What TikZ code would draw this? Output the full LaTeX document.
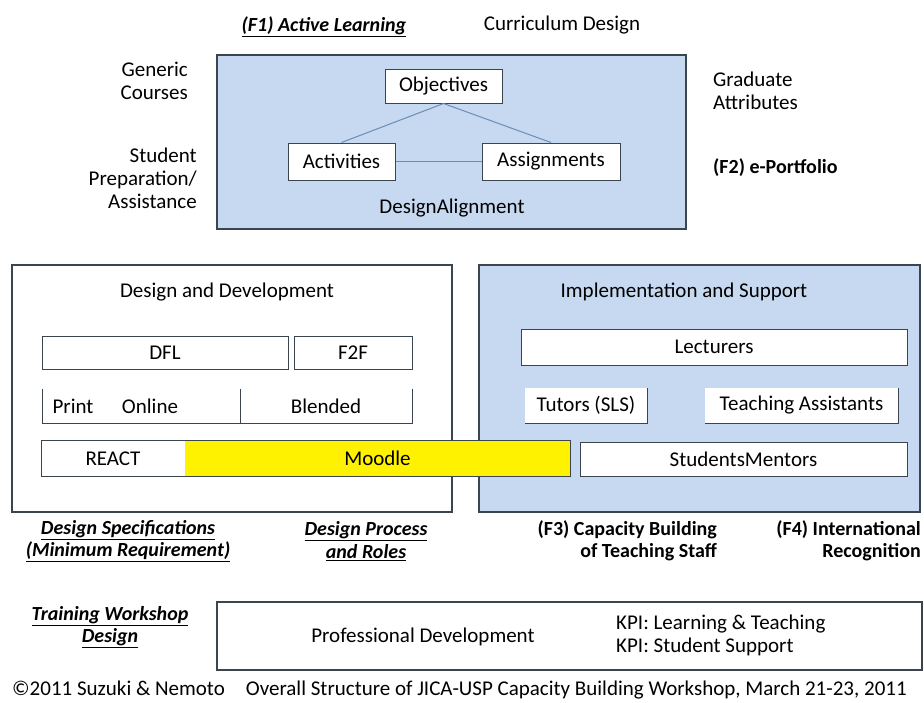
\documentclass[tikz,border=0pt]{standalone}
\usepackage{fontspec}
\setmainfont{Carlito}
\usetikzlibrary{positioning}

\definecolor{paleblue}{HTML}{C6D9F1}
\definecolor{edgegray}{HTML}{3B4550}
\definecolor{linkblue}{HTML}{6A8DB5}

\begin{document}
\begin{tikzpicture}[%
  x=1pt, y=-1pt,
  every node/.style={font=\fontsize{21}{23}\selectfont, inner sep=0pt},
  panel/.style={draw=edgegray, line width=1.2pt},
  bluepanel/.style={panel, fill=paleblue},
  item/.style={draw=edgegray, line width=1pt, fill=white},
  plainitem/.style={fill=white},
  heading/.style={font=\fontsize{20}{22.5}\selectfont\bfseries\itshape, align=center},
  factor/.style={font=\fontsize{20}{22.5}\selectfont\bfseries, align=right},
  link/.style={linkblue, line width=1pt}
]

  \useasboundingbox (0,0) rectangle (924,702);

  % curriculum design
  \node[heading] (f1) at (324,27) {\underline{(F1) Active Learning}};
  \node (curtitle) at (562,25) {Curriculum Design};

  \node[bluepanel, minimum width=469, minimum height=174] (curr) at (451.5,142) {};
  \node[item, minimum width=117, minimum height=34] (obj) at (443.5,86) {Objectives};
  \node[item, minimum width=107, minimum height=37] (act) at (341.5,161.5) {Activities};
  \node[item, minimum width=138, minimum height=37] (asg) at (551,161.5) {Assignments};
  \node (align) at (452,208) {DesignAlignment};

  \draw[link] (obj.south) -- (act.north);
  \draw[link] (obj.south) -- (asg.north);
  \draw[link] (act.east) -- (asg.west);

  \node[anchor=east, align=right] (generic) at (188,81) {Generic\\Courses};
  \node[anchor=east, align=right] (prep) at (197,178) {Student\\Preparation/\\Assistance};
  \node[anchor=west, align=left] (grad) at (713,91) {Graduate\\Attributes};
  \node[anchor=west, factor] (f2) at (713,168) {(F2) e-Portfolio};

  % design and development
  \node[panel, fill=white, minimum width=440, minimum height=247] (dev) at (232,388.5) {};
  \node (devtitle) at (227,292) {Design and Development};
  \node[item, minimum width=246, minimum height=33] (dfl) at (165,352.5) {DFL};
  \node[item, minimum width=118, minimum height=33] (f2f) at (353,352.5) {F2F};

  \coordinate (brA) at (42,389);
  \coordinate (brB) at (42,423);
  \coordinate (brC) at (412,423);
  \coordinate (brD) at (412,389);
  \coordinate (brM) at (240,389);
  \coordinate (brN) at (240,423);
  \draw[edgegray, line width=1pt] (brA) -- (brB) -- (brC) -- (brD);
  \draw[edgegray, line width=1pt] (brM) -- (brN);
  \node (print) at (73,406) {Print};
  \node (online) at (150,406) {Online};
  \node (blended) at (326,406) {Blended};

  % implementation and support
  \node[bluepanel, minimum width=441, minimum height=247] (impl) at (699.5,388.5) {};
  \node (impltitle) at (684,292) {Implementation and Support};
  \node[item, minimum width=386, minimum height=36] (lect) at (714,347) {Lecturers};
  \node[plainitem, minimum width=122, minimum height=35] (tutor) at (586,405.5) {Tutors (SLS)};
  \node[plainitem, minimum width=193, minimum height=35] (ta) at (801.5,405.5) {Teaching Assistants};
  \draw[edgegray, line width=1pt] (tutor.north east) -- (tutor.south east) -- (tutor.south west);
  \draw[edgegray, line width=1pt] (ta.north east) -- (ta.south east) -- (ta.south west);
  \node[item, minimum width=327, minimum height=34] (mentor) at (743.5,459) {StudentsMentors};

  % platform bar
  \node[fill=white, minimum width=528, minimum height=35] (bar) at (306,458.5) {};
  \node[fill=yellow, minimum width=385, minimum height=35] (moodle) at (377.5,458.5) {Moodle};
  \node (react) at (113,459) {REACT};
  \draw[edgegray, line width=1pt] (bar.north west) rectangle (bar.south east);

  % labels under the panels
  \node[heading] (spec) at (128,541) {\underline{Design Specifications}\\\underline{(Minimum Requirement)}};
  \node[heading] (proc) at (366,541) {\underline{Design Process}\\\underline{and Roles}};
  \node[factor, anchor=east] (f3) at (717,541) {(F3) Capacity Building\\of Teaching Staff};
  \node[factor, anchor=east] (f4) at (921,541) {(F4) International\\Recognition};

  % workshop
  \node[heading] (train) at (110,627) {\underline{Training Workshop}\\\underline{Design}};
  \node[panel, fill=white, minimum width=705, minimum height=68] (pd) at (569.5,636) {};
  \node (pdtext) at (423,637) {Professional Development};
  \node[anchor=west, align=left] (kpi) at (616,635) {KPI: Learning \& Teaching\\KPI: Student Support};

  \node[anchor=west] (foot) at (12,690) {\textcopyright2011 Suzuki \& Nemoto\quad Overall Structure of JICA-USP Capacity Building Workshop, March 21-23, 2011};

\end{tikzpicture}
\end{document}
